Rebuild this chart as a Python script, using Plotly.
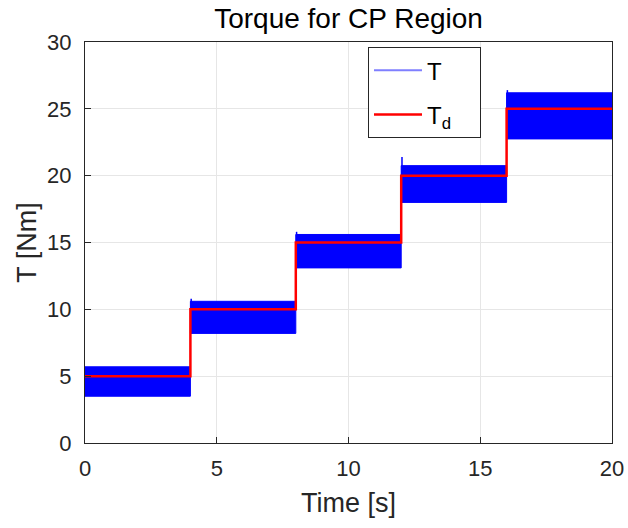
import plotly.graph_objects as go

# Desired torque steps
step_t = [0, 4, 8, 12, 16, 20]
td_levels = [5, 10, 15, 20, 25]

t_lower = [3.5, 8.2, 13.1, 18.0, 22.75]
t_upper = [5.7, 10.6, 15.6, 20.75, 26.2]
# Transient spikes at the start of segments
spike_t = [4.0, 8.0, 12.0, 16.0]
spike_peak = [10.8, 15.8, 21.4, 26.4]

FONT = "Liberation Sans, Arial, Helvetica, sans-serif"
BLUE = "#0000ff"
RED = "#ff0000"
AX = "#262626"

fig = go.Figure()

# Measured torque band (drawn as filled envelope per segment)
for i in range(len(td_levels)):
    t0, t1 = step_t[i], step_t[i + 1]
    lo, hi = t_lower[i], t_upper[i]
    fig.add_trace(go.Scatter(
        x=[t0, t1, t1, t0, t0], y=[lo, lo, hi, hi, lo],
        mode="lines", fill="toself", fillcolor=BLUE,
        line=dict(color=BLUE, width=1), showlegend=False, hoverinfo="skip"))

for i in range(len(spike_t)):
    fig.add_trace(go.Scatter(
        x=[spike_t[i] + 0.03, spike_t[i] + 0.03],
        y=[t_lower[i + 1], spike_peak[i]],
        mode="lines", line=dict(color=BLUE, width=1.5),
        showlegend=False, hoverinfo="skip"))

# Legend entry for T
fig.add_trace(go.Scatter(x=[None], y=[None], mode="lines",
                         name="T&nbsp;&nbsp;&nbsp;&nbsp;&nbsp;", legendgroup="a",
                         line=dict(color="rgba(0,0,255,0.5)", width=2)))

# Desired torque Td as a step line
td_x = []
td_y = []
for i in range(len(td_levels)):
    td_x += [step_t[i], step_t[i + 1]]
    td_y += [td_levels[i], td_levels[i]]
fig.add_trace(go.Scatter(x=td_x, y=td_y, mode="lines", name="T<sub>d</sub>",
                         legendgroup="b",
                         line=dict(color=RED, width=2.5)))

fig.update_layout(
    width=628, height=528,
    margin=dict(l=85, r=16, t=42, b=85),
    paper_bgcolor="white", plot_bgcolor="white",
    font=dict(family=FONT, color=AX, size=21),
    title=dict(text="Torque for CP Region", x=0.555, xanchor="center",
               y=0.965, yanchor="middle",
               font=dict(family=FONT, size=28, color="black")),
    showlegend=True,
    legend=dict(x=0.537, y=0.987, xanchor="left", yanchor="top",
                bgcolor="white", bordercolor=AX, borderwidth=1,
                font=dict(family=FONT, size=24, color="black"),
                itemwidth=48, traceorder="grouped", tracegroupgap=10),
)

fig.update_xaxes(
    range=[0, 20], tickvals=[0, 5, 10, 15, 20],
    showgrid=True, gridcolor="#e6e6e6", gridwidth=1,
    showline=True, linecolor=AX, linewidth=1, mirror=True,
    ticks="inside", ticklen=6, tickcolor=AX,
    zeroline=False, tickfont=dict(size=22, color=AX),
    ticklabelstandoff=6, automargin=False,
    title=dict(text="Time [s]", font=dict(size=27, color=AX), standoff=12),
)
fig.update_yaxes(
    range=[0, 30], tickvals=[0, 5, 10, 15, 20, 25, 30],
    showgrid=True, gridcolor="#e6e6e6", gridwidth=1,
    showline=True, linecolor=AX, linewidth=1, mirror=True,
    ticks="inside", ticklen=6, tickcolor=AX,
    zeroline=False, tickfont=dict(size=22, color=AX),
    ticklabelstandoff=8, automargin=False,
    title=dict(text="T [Nm]", font=dict(size=27, color=AX), standoff=2),
)

fig.write_html("out.html")
